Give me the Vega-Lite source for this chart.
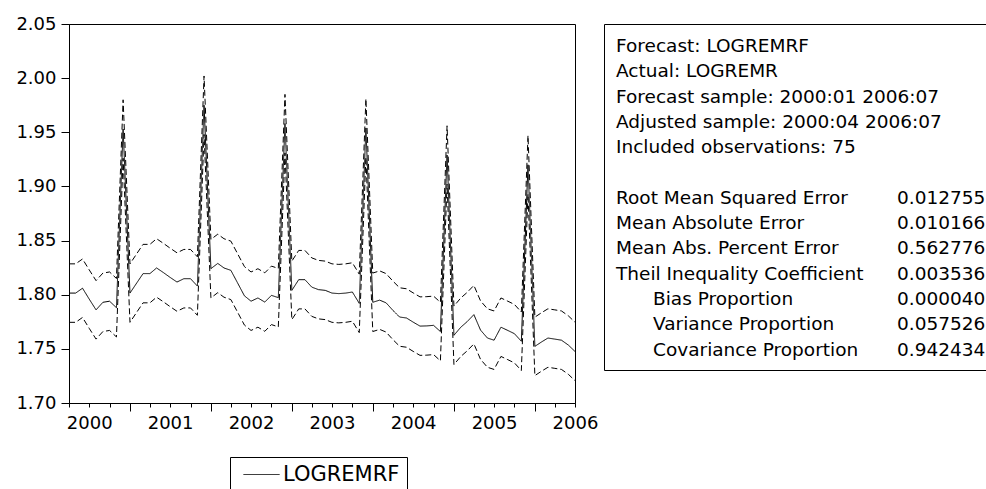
{
  "$schema": "https://vega.github.io/schema/vega-lite/v6.json",
  "background": "white",
  "padding": {"left": 15, "top": 14, "right": 0, "bottom": 0},
  "spacing": 4,
  "config": {
    "font": "DejaVu Sans",
    "view": {"stroke": "black", "strokeWidth": 1},
    "axis": {"labelFont": "DejaVu Sans", "labelFontSize": 18, "labelColor": "black", "tickColor": "black", "domainColor": "black", "grid": false, "labelFlush": false, "labelOverlap": false, "tickWidth": 1, "domainWidth": 1},
    "legend": {"orient": "none", "legendX": 161, "legendY": 433, "direction": "vertical", "strokeColor": "black", "fillColor": "white", "padding": 7, "symbolType": "M-1,0H8", "symbolSize": 64, "symbolStrokeWidth": 1, "symbolStrokeColor": "black", "symbolFillColor": "transparent", "labelFont": "DejaVu Sans", "labelFontSize": 21, "labelColor": "black", "labelOffset": 25, "rowPadding": 14}
  },
  "datasets": {
    "fc": [
      {"date": "2000-04-01T00:00", "f": 1.8015, "u": 1.8285, "l": 1.7745},
      {"date": "2000-05-01T00:00", "f": 1.8015, "u": 1.8285, "l": 1.7745},
      {"date": "2000-06-01T00:00", "f": 1.806, "u": 1.833, "l": 1.779},
      {"date": "2000-07-01T00:00", "f": 1.796, "u": 1.823, "l": 1.769},
      {"date": "2000-08-01T00:00", "f": 1.786, "u": 1.813, "l": 1.759},
      {"date": "2000-09-01T00:00", "f": 1.793, "u": 1.820, "l": 1.766},
      {"date": "2000-10-01T00:00", "f": 1.794, "u": 1.821, "l": 1.767},
      {"date": "2000-11-01T00:00", "f": 1.788, "u": 1.815, "l": 1.761},
      {"date": "2000-12-01T00:00", "f": 1.953, "u": 1.980, "l": 1.926},
      {"date": "2001-01-01T00:00", "f": 1.8015, "u": 1.8285, "l": 1.7745},
      {"date": "2001-02-01T00:00", "f": 1.811, "u": 1.838, "l": 1.784},
      {"date": "2001-03-01T00:00", "f": 1.8195, "u": 1.8465, "l": 1.7925},
      {"date": "2001-04-01T00:00", "f": 1.8195, "u": 1.8465, "l": 1.7925},
      {"date": "2001-05-01T00:00", "f": 1.8247, "u": 1.8517, "l": 1.7977},
      {"date": "2001-06-01T00:00", "f": 1.8204, "u": 1.8474, "l": 1.7934},
      {"date": "2001-07-01T00:00", "f": 1.816, "u": 1.843, "l": 1.789},
      {"date": "2001-08-01T00:00", "f": 1.8117, "u": 1.8387, "l": 1.7847},
      {"date": "2001-09-01T00:00", "f": 1.8148, "u": 1.8418, "l": 1.7878},
      {"date": "2001-10-01T00:00", "f": 1.8148, "u": 1.8418, "l": 1.7878},
      {"date": "2001-11-01T00:00", "f": 1.808, "u": 1.835, "l": 1.781},
      {"date": "2001-12-01T00:00", "f": 1.975, "u": 2.002, "l": 1.948},
      {"date": "2002-01-01T00:00", "f": 1.8241, "u": 1.8511, "l": 1.7971},
      {"date": "2002-02-01T00:00", "f": 1.8289, "u": 1.8559, "l": 1.8019},
      {"date": "2002-03-01T00:00", "f": 1.8247, "u": 1.8517, "l": 1.7977},
      {"date": "2002-04-01T00:00", "f": 1.8225, "u": 1.8495, "l": 1.7955},
      {"date": "2002-05-01T00:00", "f": 1.811, "u": 1.838, "l": 1.784},
      {"date": "2002-06-01T00:00", "f": 1.799, "u": 1.826, "l": 1.772},
      {"date": "2002-07-01T00:00", "f": 1.794, "u": 1.821, "l": 1.767},
      {"date": "2002-08-01T00:00", "f": 1.797, "u": 1.824, "l": 1.770},
      {"date": "2002-09-01T00:00", "f": 1.7932, "u": 1.8202, "l": 1.7662},
      {"date": "2002-10-01T00:00", "f": 1.7994, "u": 1.8264, "l": 1.7724},
      {"date": "2002-11-01T00:00", "f": 1.7973, "u": 1.8243, "l": 1.7703},
      {"date": "2002-12-01T00:00", "f": 1.958, "u": 1.985, "l": 1.931},
      {"date": "2003-01-01T00:00", "f": 1.804, "u": 1.831, "l": 1.777},
      {"date": "2003-02-01T00:00", "f": 1.8139, "u": 1.8409, "l": 1.7869},
      {"date": "2003-03-01T00:00", "f": 1.8139, "u": 1.8409, "l": 1.7869},
      {"date": "2003-04-01T00:00", "f": 1.807, "u": 1.834, "l": 1.780},
      {"date": "2003-05-01T00:00", "f": 1.8047, "u": 1.8317, "l": 1.7777},
      {"date": "2003-06-01T00:00", "f": 1.804, "u": 1.831, "l": 1.777},
      {"date": "2003-07-01T00:00", "f": 1.8015, "u": 1.8285, "l": 1.7745},
      {"date": "2003-08-01T00:00", "f": 1.801, "u": 1.828, "l": 1.774},
      {"date": "2003-09-01T00:00", "f": 1.8015, "u": 1.8285, "l": 1.7745},
      {"date": "2003-10-01T00:00", "f": 1.8025, "u": 1.8295, "l": 1.7755},
      {"date": "2003-11-01T00:00", "f": 1.792, "u": 1.819, "l": 1.765},
      {"date": "2003-12-01T00:00", "f": 1.954, "u": 1.981, "l": 1.927},
      {"date": "2004-01-01T00:00", "f": 1.793, "u": 1.820, "l": 1.766},
      {"date": "2004-02-01T00:00", "f": 1.795, "u": 1.822, "l": 1.768},
      {"date": "2004-03-01T00:00", "f": 1.7925, "u": 1.8195, "l": 1.7655},
      {"date": "2004-04-01T00:00", "f": 1.7855, "u": 1.8125, "l": 1.7585},
      {"date": "2004-05-01T00:00", "f": 1.7794, "u": 1.8064, "l": 1.7524},
      {"date": "2004-06-01T00:00", "f": 1.7785, "u": 1.8055, "l": 1.7515},
      {"date": "2004-07-01T00:00", "f": 1.7747, "u": 1.8017, "l": 1.7477},
      {"date": "2004-08-01T00:00", "f": 1.771, "u": 1.798, "l": 1.744},
      {"date": "2004-09-01T00:00", "f": 1.7712, "u": 1.7982, "l": 1.7442},
      {"date": "2004-10-01T00:00", "f": 1.7717, "u": 1.7987, "l": 1.7447},
      {"date": "2004-11-01T00:00", "f": 1.766, "u": 1.793, "l": 1.739},
      {"date": "2004-12-01T00:00", "f": 1.929, "u": 1.956, "l": 1.902},
      {"date": "2005-01-01T00:00", "f": 1.7625, "u": 1.7895, "l": 1.7355},
      {"date": "2005-02-01T00:00", "f": 1.770, "u": 1.797, "l": 1.743},
      {"date": "2005-03-01T00:00", "f": 1.775, "u": 1.802, "l": 1.748},
      {"date": "2005-04-01T00:00", "f": 1.7816, "u": 1.8086, "l": 1.7546},
      {"date": "2005-05-01T00:00", "f": 1.7673, "u": 1.7943, "l": 1.7403},
      {"date": "2005-06-01T00:00", "f": 1.760, "u": 1.787, "l": 1.733},
      {"date": "2005-07-01T00:00", "f": 1.758, "u": 1.785, "l": 1.731},
      {"date": "2005-08-01T00:00", "f": 1.770, "u": 1.797, "l": 1.743},
      {"date": "2005-09-01T00:00", "f": 1.767, "u": 1.794, "l": 1.740},
      {"date": "2005-10-01T00:00", "f": 1.764, "u": 1.791, "l": 1.737},
      {"date": "2005-11-01T00:00", "f": 1.757, "u": 1.784, "l": 1.730},
      {"date": "2005-12-01T00:00", "f": 1.920, "u": 1.947, "l": 1.893},
      {"date": "2006-01-01T00:00", "f": 1.7523, "u": 1.7793, "l": 1.7253},
      {"date": "2006-02-01T00:00", "f": 1.7565, "u": 1.7835, "l": 1.7295},
      {"date": "2006-03-01T00:00", "f": 1.760, "u": 1.787, "l": 1.733},
      {"date": "2006-04-01T00:00", "f": 1.759, "u": 1.786, "l": 1.732},
      {"date": "2006-05-01T00:00", "f": 1.758, "u": 1.785, "l": 1.731},
      {"date": "2006-06-01T00:00", "f": 1.7535, "u": 1.7805, "l": 1.7265},
      {"date": "2006-07-01T00:00", "f": 1.7476, "u": 1.7746, "l": 1.7206}
    ],
    "stats": [
      {"row": 0, "kind": "label", "indent": false, "text": "Forecast: LOGREMRF"},
      {"row": 1, "kind": "label", "indent": false, "text": "Actual: LOGREMR"},
      {"row": 2, "kind": "label", "indent": false, "text": "Forecast sample: 2000:01 2006:07"},
      {"row": 3, "kind": "label", "indent": false, "text": "Adjusted sample: 2000:04 2006:07"},
      {"row": 4, "kind": "label", "indent": false, "text": "Included observations: 75"},
      {"row": 6, "kind": "label", "indent": false, "text": "Root Mean Squared Error"},
      {"row": 6, "kind": "value", "indent": false, "text": "0.012755"},
      {"row": 7, "kind": "label", "indent": false, "text": "Mean Absolute Error"},
      {"row": 7, "kind": "value", "indent": false, "text": "0.010166"},
      {"row": 8, "kind": "label", "indent": false, "text": "Mean Abs. Percent Error"},
      {"row": 8, "kind": "value", "indent": false, "text": "0.562776"},
      {"row": 9, "kind": "label", "indent": false, "text": "Theil Inequality Coefficient"},
      {"row": 9, "kind": "value", "indent": false, "text": "0.003536"},
      {"row": 10, "kind": "label", "indent": true, "text": "Bias Proportion"},
      {"row": 10, "kind": "value", "indent": false, "text": "0.000040"},
      {"row": 11, "kind": "label", "indent": true, "text": "Variance Proportion"},
      {"row": 11, "kind": "value", "indent": false, "text": "0.057526"},
      {"row": 12, "kind": "label", "indent": true, "text": "Covariance Proportion"},
      {"row": 12, "kind": "value", "indent": false, "text": "0.942434"}
    ]
  },
  "resolve": {"scale": {"strokeDash": "independent"}, "legend": {"strokeDash": "independent"}},
  "hconcat": [
    {
      "width": 506,
      "height": 379,
      "data": {"name": "fc"},
      "encoding": {
        "x": {
          "field": "date",
          "type": "temporal",
          "title": null,
          "scale": {"domain": [{"year": 2000, "month": 4, "date": 1}, {"year": 2006, "month": 7, "date": 1}]},
          "axis": {
            "values": [
              {"year": 2000, "month": 4, "date": 1}, {"year": 2000, "month": 7, "date": 1}, {"year": 2000, "month": 10, "date": 1},
              {"year": 2001, "month": 1, "date": 1}, {"year": 2001, "month": 4, "date": 1}, {"year": 2001, "month": 7, "date": 1}, {"year": 2001, "month": 10, "date": 1},
              {"year": 2002, "month": 1, "date": 1}, {"year": 2002, "month": 4, "date": 1}, {"year": 2002, "month": 7, "date": 1}, {"year": 2002, "month": 10, "date": 1},
              {"year": 2003, "month": 1, "date": 1}, {"year": 2003, "month": 4, "date": 1}, {"year": 2003, "month": 7, "date": 1}, {"year": 2003, "month": 10, "date": 1},
              {"year": 2004, "month": 1, "date": 1}, {"year": 2004, "month": 4, "date": 1}, {"year": 2004, "month": 7, "date": 1}, {"year": 2004, "month": 10, "date": 1},
              {"year": 2005, "month": 1, "date": 1}, {"year": 2005, "month": 4, "date": 1}, {"year": 2005, "month": 7, "date": 1}, {"year": 2005, "month": 10, "date": 1},
              {"year": 2006, "month": 1, "date": 1}, {"year": 2006, "month": 4, "date": 1}, {"year": 2006, "month": 7, "date": 1}
            ],
            "tickSize": {"condition": {"test": "month(datum.value) == 0", "value": 8}, "value": 4},
            "labelExpr": "month(datum.value) == 6 ? timeFormat(datum.value, '%Y') : ''",
            "labelPadding": 7
          }
        }
      },
      "layer": [
        {
          "mark": {"type": "line", "color": "black", "strokeWidth": 1},
          "encoding": {
            "y": {"field": "f", "type": "quantitative", "title": null, "scale": {"domain": [1.70, 2.05], "nice": false, "zero": false}, "axis": {"values": [1.70, 1.75, 1.80, 1.85, 1.90, 1.95, 2.00, 2.05], "format": ".2f", "tickSize": 8, "labelPadding": 5}},
            "strokeDash": {"datum": "LOGREMRF", "type": "nominal", "title": null, "scale": {"domain": ["LOGREMRF"], "range": [[1, 0]]}}
          }
        },
        {
          "mark": {"type": "line", "color": "black", "strokeWidth": 1, "strokeDash": [6, 3]},
          "encoding": {
            "y": {"field": "u", "type": "quantitative", "title": null}
          }
        },
        {
          "mark": {"type": "line", "color": "black", "strokeWidth": 1, "strokeDash": [6, 3]},
          "encoding": {
            "y": {"field": "l", "type": "quantitative", "title": null}
          }
        }
      ]
    },
    {
      "width": 400,
      "height": 346,
      "data": {"name": "stats"},
      "encoding": {
        "x": {"field": "kind", "type": "nominal", "scale": {"type": "point", "domain": ["label", "value"], "range": [12, 293], "padding": 0}, "axis": null},
        "y": {"field": "row", "type": "quantitative", "scale": {"domain": [0, 12], "range": [22, 325.6]}, "axis": null},
        "text": {"field": "text"}
      },
      "layer": [
        {
          "transform": [{"filter": "!datum.indent"}],
          "mark": {"type": "text", "align": "left", "baseline": "middle", "font": "DejaVu Sans", "fontSize": 18.5, "color": "black"}
        },
        {
          "transform": [{"filter": "datum.indent"}],
          "mark": {"type": "text", "align": "left", "baseline": "middle", "font": "DejaVu Sans", "fontSize": 18.5, "color": "black", "dx": 37}
        }
      ]
    }
  ]
}
